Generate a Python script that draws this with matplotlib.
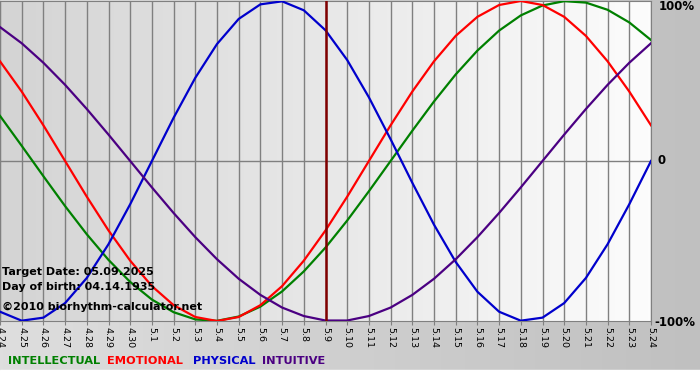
import numpy as np
import matplotlib
matplotlib.use("Agg")
import matplotlib.pyplot as plt
from matplotlib.colors import LinearSegmentedColormap

# days shown (4.24 .. 5.24)
days = ['4.24', '4.25', '4.26', '4.27', '4.28', '4.29', '4.30',
        '5.1', '5.2', '5.3', '5.4', '5.5', '5.6', '5.7', '5.8', '5.9',
        '5.10', '5.11', '5.12', '5.13', '5.14', '5.15', '5.16', '5.17',
        '5.18', '5.19', '5.20', '5.21', '5.22', '5.23', '5.24']
target_day = '5.9'

physical = [-0.942, -0.998, -0.979, -0.888, -0.731, -0.520, -0.270, 0.0,
            0.270, 0.520, 0.731, 0.888, 0.979, 0.998, 0.942, 0.817, 0.631,
            0.398, 0.136, -0.136, -0.398, -0.631, -0.817, -0.942, -0.998,
            -0.979, -0.888, -0.731, -0.520, -0.270, 0.0]
emotional = [0.623, 0.434, 0.223, 0.0, -0.223, -0.434, -0.623, -0.782,
             -0.901, -0.975, -1.0, -0.975, -0.901, -0.782, -0.623, -0.434,
             -0.223, 0.0, 0.223, 0.434, 0.623, 0.782, 0.901, 0.975, 1.0,
             0.975, 0.901, 0.782, 0.623, 0.434, 0.223]
intellectual = [0.282, 0.095, -0.095, -0.282, -0.458, -0.618, -0.756, -0.866,
                -0.945, -0.990, -0.999, -0.972, -0.910, -0.815, -0.690,
                -0.541, -0.372, -0.189, 0.0, 0.189, 0.372, 0.541, 0.690,
                0.815, 0.910, 0.972, 0.999, 0.990, 0.945, 0.866, 0.756]
intuitive = [0.837, 0.736, 0.614, 0.476, 0.325, 0.165, 0.0, -0.165, -0.325,
             -0.476, -0.614, -0.736, -0.837, -0.916, -0.969, -0.997, -0.997,
             -0.969, -0.916, -0.837, -0.736, -0.614, -0.476, -0.325, -0.165,
             0.0, 0.165, 0.325, 0.476, 0.614, 0.736]

series = [('INTELLECTUAL', intellectual, '#008000'),
          ('EMOTIONAL', emotional, '#ff0000'),
          ('PHYSICAL', physical, '#0000cc'),
          ('INTUITIVE', intuitive, '#4b0082')]

W, H = 700, 380
fig = plt.figure(figsize=(W / 100, H / 100), dpi=100)

# figure background: grey gradient, white strip at the bottom
bg = fig.add_axes([0, 0, 1, 1], zorder=-5)
bg.set_axis_off()
bg_cmap = LinearSegmentedColormap.from_list('bg', ['#dedede', '#c0c0c0'])
bg.imshow(np.linspace(0, 1, 200)[None, :], cmap=bg_cmap, aspect='auto',
          extent=[0, 1, 0, 1], transform=bg.transAxes)
bg.axhspan(0, 10 / H, color='white')
bg.set_xlim(0, 1)
bg.set_ylim(0, 1)

ax = fig.add_axes([0, 59 / H, 651 / W, 320 / H])
x = np.arange(len(days))
ax.set_xlim(0, len(days) - 1)
ax.set_ylim(-1, 1)

plot_cmap = LinearSegmentedColormap.from_list('plot', ['#d4d4d4', '#fcfcfc'])
ax.imshow(np.linspace(0, 1, 200)[None, :], cmap=plot_cmap, aspect='auto',
          extent=[0, len(days) - 1, -1, 1], zorder=0)

for xi in x:
    ax.axvline(xi, color='#808080', lw=1.0, zorder=1)
ax.axhline(0, color='#808080', lw=1.0, zorder=1)

for name, vals, col in series:
    ax.plot(x, vals, color=col, lw=1.6, zorder=3, solid_joinstyle='round')

ax.axvline(days.index(target_day), color='#800000', lw=1.8, zorder=4)

for s in ax.spines.values():
    s.set_color('#808080')
ax.set_yticks([])
ax.set_xticks(x)
ax.set_xticklabels(days, rotation=-90, fontsize=6.8)
ax.tick_params(axis='x', length=3, color='#808080', pad=1)

# right side labels
fig.text(659 / W, 1 - 6 / H, '100%', fontsize=8.5, fontweight='bold',
         ha='left', va='center')
fig.text(658 / W, 1 - 161 / H, '0', fontsize=8.5, fontweight='bold',
         ha='left', va='center')
fig.text(654 / W, 1 - 322 / H, '-100%', fontsize=8.5, fontweight='bold',
         ha='left', va='center')

# info text
fig.text(2 / W, 1 - 272 / H, 'Target Date: 05.09.2025', fontsize=8,
         fontweight='bold', va='center', zorder=10)
fig.text(2 / W, 1 - 287 / H, 'Day of birth: 04.14.1935', fontsize=8,
         fontweight='bold', va='center', zorder=10)
fig.text(2 / W, 1 - 307 / H, '\u00a92010 biorhythm-calculator.net',
         fontsize=8, fontweight='bold', va='center', zorder=10)

# legend
legend_x = [8, 107, 193, 262]
for (name, vals, col), lx in zip(series, legend_x):
    fig.text(lx / W, 1 - 361 / H, name, color=col, fontsize=8.2,
             fontweight='bold', va='center')

fig.savefig('out.png', dpi=100)
